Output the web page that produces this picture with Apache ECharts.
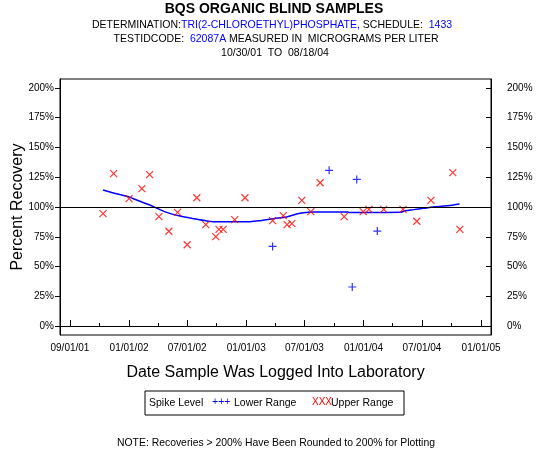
<!DOCTYPE html>
<html>
<head>
<meta charset="utf-8">
<script src="https://cdn.jsdelivr.net/npm/echarts@6/dist/echarts.min.js"></script>
<style>
html,body{margin:0;padding:0;background:#fff;}
#chart{width:550px;height:450px;}
</style>
</head>
<body>
<div id="chart"></div>
<script>
// ---- data ----
var tickDates = ['2001-07-01','2002-01-01','2002-07-01','2003-01-01','2003-07-01','2004-01-01','2004-07-01','2005-01-01'];
var tickLabels = ['09/01/01','01/01/02','07/01/02','01/01/03','07/01/03','01/01/04','07/01/04','01/01/05'];
var minorTickDates = ['2001-10-01','2002-04-01','2002-10-01','2003-04-01','2003-10-01','2004-04-01','2004-10-01'];
var yTicks = [0,25,50,75,100,125,150,175,200];

var upperDates = ['2001-10-12','2001-11-14','2002-01-01','2002-02-10','2002-03-06','2002-04-04','2002-05-05','2002-06-01','2002-07-01','2002-07-31','2002-08-28','2002-09-28','2002-10-08','2002-10-21','2002-11-26','2002-12-28','2003-03-24','2003-04-26','2003-05-08','2003-05-23','2003-06-23','2003-07-21','2003-08-19','2003-11-02','2003-12-31','2004-01-18','2004-03-04','2004-05-03','2004-06-15','2004-07-29','2004-10-05','2004-10-27'];
var upperValues = [94.4,128.0,107.0,115.4,127.2,91.9,79.6,95.5,68.3,107.8,85.2,75.1,81.2,81.2,89.4,107.8,88.5,92.7,85.2,86.0,105.6,96.1,120.4,91.9,96.1,98.0,98.0,98.0,88.0,105.6,128.9,81.2];

var lowerDates = ['2003-03-24','2003-09-16','2003-11-27','2003-12-11','2004-02-13'];
var lowerValues = [66.9,130.8,32.8,123.2,79.8];

var smoothDates = ['2001-10-12','2001-11-13','2001-12-25','2002-02-04','2002-03-18','2002-04-28','2002-06-09','2002-07-20','2002-08-31','2002-09-21','2002-11-01','2003-01-13','2003-02-13','2003-03-27','2003-05-07','2003-06-07','2003-06-27','2003-07-28','2003-11-14','2003-11-16','2004-04-24','2004-05-10','2004-06-05','2004-07-06','2004-08-06','2004-09-06','2004-10-07','2004-10-26'];
var smoothValues = [114.3,111.8,109.0,104.8,100.3,95.5,92.4,90.2,88.2,87.7,87.7,87.7,88.5,90.2,91.6,94.1,95.2,95.9,95.9,95.3,95.5,96.9,97.8,98.9,100.0,100.8,101.7,102.5];

var xMinDate = '2001-05-31', xMaxDate = '2005-02-01';
var yMin = -7.5, yMax = 207.5, refLevel = 100;

// ---- build ----
function t(d){ return Date.parse(d); }
function pairs(ds, vs){ return ds.map(function(d,i){ return [t(d), vs[i]]; }); }
var tickVals = tickDates.map(t);
var minorVals = minorTickDates.map(t);
var FONT = '"Liberation Sans", Arial, sans-serif';

var chart = echarts.init(document.getElementById('chart'), null, {renderer:'canvas'});
var yAxisBase = function(pos, tickInside, margin){
  return {
    type:'value', position:pos, min:yMin, max:yMax,
    axisLine:{show:true, lineStyle:{color:'#000', width:1}},
    axisTick:{show:true, inside:tickInside, length:5, customValues:yTicks, lineStyle:{color:'#000'}},
    axisLabel:{show:true, customValues:yTicks, formatter:'{value}%', color:'#000', fontSize:10, fontFamily:FONT, margin:margin},
    splitLine:{show:false}
  };
};
var yl = yAxisBase('left', false, 6);
yl.name = 'Percent Recovery';
yl.nameLocation = 'middle';
yl.nameGap = 34;
yl.nameMoveOverlap = false;
yl.nameTextStyle = {fontSize:16, color:'#000', fontFamily:FONT};
var yr = yAxisBase('right', true, 16);

var SUB = '10.5px ' + FONT;
var option = {
  animation:false,
  backgroundColor:'#fff',
  grid:{left:60, right:59, top:79, bottom:115, show:true, borderColor:'#000', borderWidth:1, backgroundColor:'transparent', containLabel:false, outerBoundsMode:'none'},
  xAxis:[{
    type:'value', position:'bottom', min:t(xMinDate), max:t(xMaxDate),
    axisLine:{show:true, lineStyle:{color:'#000'}},
    axisTick:{show:true, inside:true, length:6, customValues:tickVals, lineStyle:{color:'#000'}},
    axisLabel:{show:true, customValues:tickVals, color:'#000', fontSize:10, fontFamily:FONT, margin:8,
      formatter:function(v){ var i = tickVals.indexOf(v); return i>=0 ? tickLabels[i] : ''; }},
    splitLine:{show:false},
    name:'Date Sample Was Logged Into Laboratory', nameLocation:'middle', nameGap:30, nameMoveOverlap:false,
    nameTextStyle:{fontSize:16, color:'#000', fontFamily:FONT}
  },{
    type:'value', position:'bottom', min:t(xMinDate), max:t(xMaxDate),
    axisLine:{show:false},
    axisTick:{show:true, inside:true, length:3, customValues:minorVals, lineStyle:{color:'#000'}},
    axisLabel:{show:false},
    splitLine:{show:false}
  }],
  yAxis:[yl, yr],
  series:[{
    name:'Smooth', type:'line', xAxisIndex:0, yAxisIndex:0,
    data:pairs(smoothDates, smoothValues), smooth:0.3, showSymbol:false,
    lineStyle:{color:'#0000ff', width:1.5}, z:3,
    markLine:{silent:true, symbol:'none', label:{show:false},
      lineStyle:{color:'#000', width:1, type:'solid'}, data:[{yAxis:refLevel}]}
  },{
    name:'Upper Range', type:'scatter', xAxisIndex:0, yAxisIndex:0,
    data:pairs(upperDates, upperValues),
    symbol:'path://M0,0L10,10M10,0L0,10', symbolSize:7,
    itemStyle:{color:'none', borderColor:'#ff0000', borderWidth:1.2}, z:4
  },{
    name:'Lower Range', type:'scatter', xAxisIndex:0, yAxisIndex:0,
    data:pairs(lowerDates, lowerValues),
    symbol:'path://M5,0L5,10M0,5L10,5', symbolSize:8,
    itemStyle:{color:'none', borderColor:'#0000ff', borderWidth:1.2}, z:4
  }],
  graphic:[
    {type:'text', x:274, y:9, style:{text:'BQS ORGANIC BLIND SAMPLES', font:'bold 14px '+FONT, fill:'#000', align:'center', verticalAlign:'middle'}},
    {type:'text', x:272, y:25, style:{
      text:'{k|DETERMINATION:}{b|TRI(2-CHLOROETHYL)PHOSPHATE,}{k| SCHEDULE:  }{b|1433}',
      align:'center', verticalAlign:'middle',
      rich:{k:{fill:'#000', font:SUB}, b:{fill:'#0000ff', font:SUB}}}},
    {type:'text', x:276, y:39.5, style:{
      text:'{k|TESTIDCODE:  }{b|62087A}{k| MEASURED IN  MICROGRAMS PER LITER}',
      align:'center', verticalAlign:'middle',
      rich:{k:{fill:'#000', font:SUB}, b:{fill:'#0000ff', font:SUB}}}},
    {type:'text', x:275, y:53.5, style:{text:'10/30/01  TO  08/18/04', font:SUB, fill:'#000', align:'center', verticalAlign:'middle'}},
    {type:'rect', shape:{x:145, y:391, width:259, height:24}, style:{fill:'none', stroke:'#000', lineWidth:1}},
    {type:'text', x:149, y:403, style:{text:'Spike Level', font:'10.5px '+FONT, fill:'#000', verticalAlign:'middle'}},
    {type:'text', x:212, y:402, style:{text:'+++', font:'10.5px '+FONT, fill:'#0000ff', verticalAlign:'middle'}},
    {type:'text', x:234, y:403, style:{text:'Lower Range', font:'10.5px '+FONT, fill:'#000', verticalAlign:'middle'}},
    {type:'text', x:312, y:402, style:{text:'XXX', font:'10px '+FONT, fill:'#ff0000', verticalAlign:'middle'}},
    {type:'text', x:331, y:403, style:{text:'Upper Range', font:'10.5px '+FONT, fill:'#000', verticalAlign:'middle'}},
    {type:'text', x:276, y:443, style:{text:'NOTE: Recoveries > 200% Have Been Rounded to 200% for Plotting', font:'10.4px '+FONT, fill:'#000', align:'center', verticalAlign:'middle'}}
  ]
};
chart.setOption(option);
</script>
</body>
</html>
